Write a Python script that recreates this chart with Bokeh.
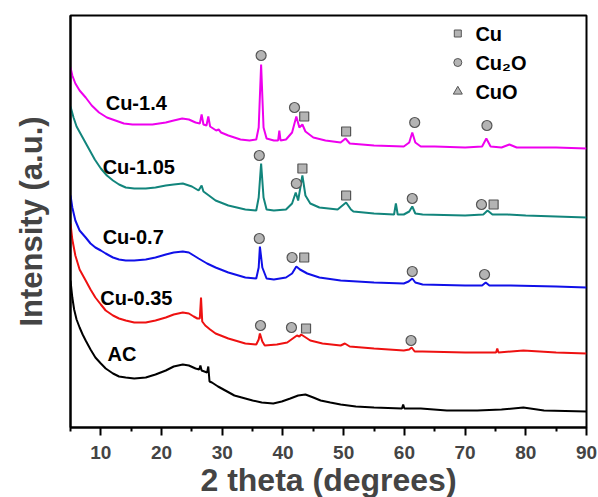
from bokeh.plotting import figure
from bokeh.models import FixedTicker, Range1d
from bokeh.core.properties import value
from bokeh.embed import file_html
from bokeh.resources import INLINE

FONT = "Liberation Sans"

# ---------------- data (2 theta in degrees, intensity in a.u.) ----------------
cu14_tt = [5.0, 5.3, 5.8, 6.5, 7.5, 8.5, 9.7, 11.0, 12.4, 13.8, 15.2, 16.8, 18.5, 19.6, 20.7,
           22.0, 23.4, 24.5, 25.6, 26.3, 26.6, 26.9, 27.4, 27.7, 28.0, 29.0, 29.4, 29.8, 31.0,
           33.0, 34.5, 35.6, 36.0, 36.4, 36.8, 37.3, 38.5, 39.2, 39.4, 39.6, 40.5, 41.5, 42.2,
           42.7, 43.2, 43.7, 45.0, 47.0, 49.5, 50.3, 51.0, 55.0, 59.9, 60.8, 61.3, 61.8, 62.7,
           65.0, 70.0, 72.8, 73.5, 74.2, 76.0, 77.3, 78.5, 85.0, 90.0]
cu14_int = [360, 352, 344, 337, 330, 322, 315, 310, 307, 304, 303, 303, 303, 304, 305,
            307, 309, 308, 305, 304, 313, 303, 302, 311, 301, 297, 298, 295, 292,
            288, 287, 288, 300, 363, 300, 289, 287, 287, 297, 287, 288, 295, 311,
            300, 303, 296, 290, 287, 285, 289, 284, 282, 281, 285, 295, 285, 281,
            281, 280, 281, 289, 281, 280, 283, 280, 280, 279]

cu105_tt = [5.0, 5.5, 6.0, 7.0, 8.0, 9.0, 10.0, 11.0, 12.0, 13.0, 14.1, 15.5, 17.4, 19.0, 20.7,
            22.0, 23.5, 25.0, 26.1, 26.6, 26.9, 27.8, 28.9, 31.0, 33.8, 35.6, 36.0, 36.4, 36.8,
            37.3, 38.5, 40.5, 41.5, 42.1, 42.5, 43.2, 43.7, 44.5, 46.0, 49.0, 50.4, 51.2, 51.6,
            55.0, 58.3, 58.6, 58.9, 59.9, 60.8, 61.3, 61.8, 63.0, 70.0, 73.0, 73.7, 74.5, 77.0,
            80.0, 85.0, 90.0]
cu105_int = [321, 310, 301, 290, 279, 268, 259, 252, 247, 243, 240, 239, 239, 240, 242,
             243, 244, 241, 237, 242, 236, 232, 227, 222, 218, 217, 230, 264, 230,
             218, 217, 218, 224, 235, 227, 252, 232, 224, 220, 218, 225, 218, 216,
             214, 213, 224, 213, 213, 216, 221, 214, 213, 212, 213, 217, 213, 213,
             212, 211, 210]

cu07_tt = [5.0, 5.3, 5.8, 6.5, 7.5, 8.3, 9.1, 10.0, 10.8, 12.0, 13.0, 14.1, 15.5, 17.4, 19.0,
           20.7, 22.0, 23.5, 24.5, 25.3, 26.1, 27.5, 28.9, 31.0, 33.8, 35.6, 36.0, 36.2, 36.6,
           37.3, 38.5, 40.5, 41.5, 42.2, 42.8, 44.0, 46.0, 49.5, 55.0, 59.9, 60.7, 61.3, 61.8,
           63.0, 70.0, 72.8, 73.4, 74.0, 77.5, 85.0, 90.0]
cu07_int = [232, 220, 207, 197, 190, 184, 180, 177, 174, 170, 168, 167, 167, 168, 170,
            173, 175, 176, 175, 172, 169, 164, 160, 155, 150, 149, 160, 181, 160,
            149, 148, 150, 154, 161, 158, 154, 150, 147, 145, 144, 146, 149, 145,
            143, 142, 142, 145, 142, 142, 141, 140]

cu035_tt = [5.0, 5.3, 5.8, 6.5, 7.5, 8.3, 9.1, 10.0, 10.8, 12.0, 13.0, 14.1, 15.5, 17.4, 19.0,
            20.7, 22.0, 23.5, 24.5, 25.3, 25.9, 26.3, 26.5, 26.7, 27.2, 28.0, 28.9, 31.0, 33.8,
            35.6, 36.0, 36.2, 36.6, 37.0, 39.0, 40.7, 42.3, 42.7, 43.0, 44.5, 46.5, 49.5, 50.2,
            51.0, 55.0, 59.9, 60.8, 61.2, 61.7, 63.0, 70.0, 75.1, 75.3, 75.5, 79.6, 85.0, 90.0]
cu035_int = [204, 188, 172, 158, 147, 138, 130, 123, 117, 112, 109, 107, 105, 105, 107,
             110, 113, 115, 114, 111, 109, 109, 130, 106, 102, 98, 94, 89, 84,
             83, 88, 94, 86, 82, 83, 85, 92, 91, 93, 87, 84, 82, 84,
             81, 79, 77, 78, 80, 76, 76, 75, 75, 79, 75, 77, 75, 74]

ac_tt = [5.0, 5.3, 5.6, 6.0, 6.5, 7.0, 7.5, 8.3, 9.1, 10.0, 10.8, 12.0, 13.0, 14.1, 15.5,
         17.4, 19.0, 20.7, 22.0, 23.5, 24.5, 25.6, 26.2, 26.4, 26.6, 27.5, 27.7, 27.9, 28.3,
         29.3, 30.5, 32.0, 33.8, 35.0, 36.5, 38.4, 39.8, 41.2, 42.5, 43.7, 45.0, 46.2, 47.8,
         49.5, 52.0, 55.0, 59.6, 59.8, 60.0, 62.7, 67.0, 72.0, 76.0, 79.6, 83.0, 90.0]
ac_int = [147, 130, 118, 108, 100, 93, 87, 78, 70, 64, 59, 54, 51, 50, 49,
          50, 53, 57, 61, 63, 62, 59, 58, 62, 57, 55, 61, 46, 45,
          41, 37, 32, 29, 27, 25, 24, 26, 29, 32, 33, 30, 27, 25,
          23, 21, 20, 19, 23, 19, 19, 17, 17, 18, 20, 17, 16]

# phase markers (2 theta, intensity position of symbol)
cu2o_tt = [36.4, 41.9, 61.7, 73.6, 36.1, 42.2, 61.3, 72.7, 36.1, 41.5, 61.3, 73.2, 36.3, 41.4, 61.1]
cu2o_pos = [372, 320, 305, 302, 272, 244, 229, 223, 189, 170, 156, 153, 102, 100, 87]
cu_tt = [43.5, 50.4, 43.2, 50.4, 74.7, 43.5, 43.8]
cu_pos = [311, 296, 259, 232, 223, 170, 99]

sample_names = ["Cu-1.4", "Cu-1.05", "Cu-0.7", "Cu-0.35", "AC"]
sample_label_tt = [10.8, 10.3, 10.3, 9.9, 11.1]
sample_label_pos = [325, 261, 191, 130, 74]

legend_names = ["Cu", "Cu\u2082O", "CuO"]
legend_markers = ["square", "circle", "triangle"]

x_major = [10, 20, 30, 40, 50, 60, 70, 80, 90]
x_minor = [5, 15, 25, 35, 45, 55, 65, 75, 85]

# ---------------- figure ----------------
p = figure(frame_width=516, frame_height=412,
           x_range=Range1d(5, 90), y_range=Range1d(0, 412),
           output_backend="svg", toolbar_location=None,
           min_border_left=70, min_border_top=15, min_border_right=12, min_border_bottom=0)
p.xgrid.visible = False
p.ygrid.visible = False
p.outline_line_color = "black"
p.outline_line_width = 2
p.outline_line_alpha = 1

series = [(cu14_tt, cu14_int, "#ee00ee"), (cu105_tt, cu105_int, "#12857c"),
          (cu07_tt, cu07_int, "#1010e8"), (cu035_tt, cu035_int, "#ee1111"),
          (ac_tt, ac_int, "#000000")]
for xs, ys, c in series:
    p.line(xs, ys, line_color=c, line_width=2)

p.scatter(cu2o_tt, cu2o_pos, marker="circle", size=10, fill_color="#b4b4b4",
          line_color="#555555", line_width=1.2)
p.scatter(cu_tt, cu_pos, marker="square", size=9, fill_color="#b4b4b4",
          line_color="#555555", line_width=1.2)

p.text(sample_label_tt, sample_label_pos, text=sample_names, text_font=value(FONT),
       text_font_style="bold", text_font_size="20px", text_baseline="middle", text_color="black")

# legend (symbols + names)
leg_pos = [394, 365, 336]
for mk, yy, sz in zip(legend_markers, leg_pos, [7, 8, 9]):
    p.scatter([68.8], [yy], marker=mk, size=sz, fill_color="#b4b4b4",
              line_color="#555555", line_width=1)
p.text([71.7, 71.7, 71.7], [394, 365, 336], text=legend_names, text_font=value(FONT),
       text_font_style="bold", text_font_size="20px", text_baseline="middle", text_color="black")

# axes
xa = p.xaxis[0]
xa.ticker = FixedTicker(ticks=x_major, minor_ticks=x_minor)
xa.axis_label = "2 theta (degrees)"
xa.axis_label_text_font = FONT
xa.axis_label_text_font_style = "bold"
xa.axis_label_text_font_size = "32px"
xa.axis_label_standoff = 0
xa.major_label_text_font = FONT
xa.major_label_text_font_style = "bold"
xa.major_label_text_font_size = "19px"
xa.major_label_standoff = 10
xa.axis_line_width = 2
xa.major_tick_line_width = 2
xa.minor_tick_line_width = 2
xa.major_tick_out = 8
xa.major_tick_in = 0
xa.minor_tick_out = 4
xa.minor_tick_in = 0

ya = p.yaxis[0]
ya.ticker = FixedTicker(ticks=[])
ya.axis_label = "Intensity (a.u.)"
ya.axis_label_text_font = FONT
ya.axis_label_text_font_style = "bold"
ya.axis_label_text_font_size = "31px"
ya.axis_label_standoff = 22
ya.axis_line_width = 2
ya.major_tick_line_color = None
ya.minor_tick_line_color = None

open("out.html", "w").write(file_html(p, INLINE))
